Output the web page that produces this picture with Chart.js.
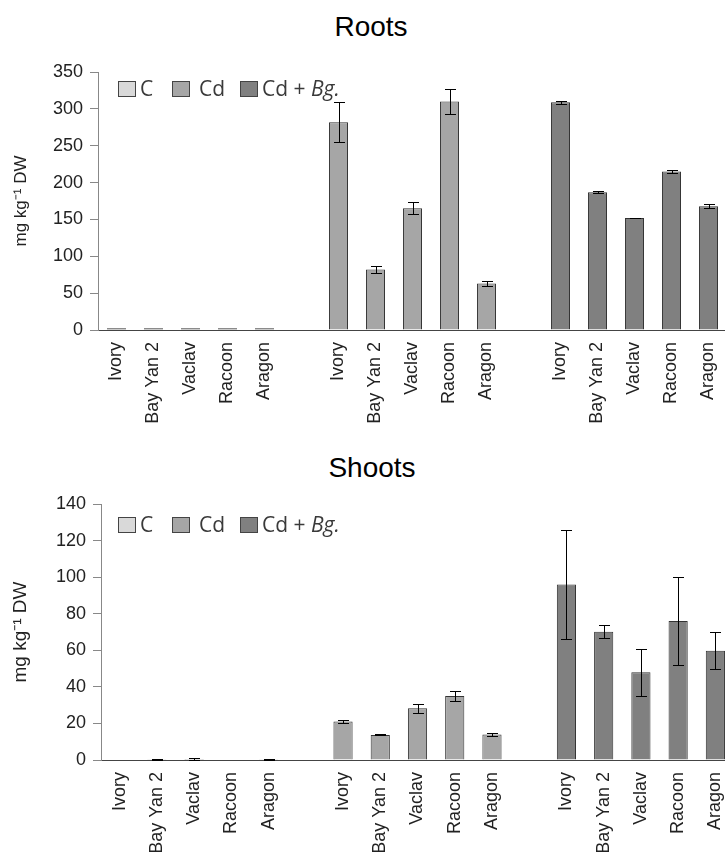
<!DOCTYPE html>
<html><head><meta charset="utf-8">
<script src="https://cdn.jsdelivr.net/npm/chart.js@4.4.1/dist/chart.umd.min.js"></script>
<style>
html,body{margin:0;padding:0;background:#fff;overflow:hidden;width:725px;height:852px;}
#wrap{position:relative;width:725px;height:852px;overflow:hidden;}
.t{position:absolute;font-family:'Liberation Sans',Arial,sans-serif;font-size:28px;line-height:28px;color:#000;white-space:nowrap;transform:translateX(-50%);}
canvas{position:absolute;left:0;}
</style></head><body>
<div id="wrap">
<div class="t" style="left:371px;top:13px">Roots</div>
<div class="t" style="left:372px;top:454px">Shoots</div>
<canvas id="roots" width="727" height="440" style="top:0"></canvas>
<canvas id="shoots" width="734" height="412" style="top:440px"></canvas>
</div>
<script>
// ---- data ----
const cultivars = ['Ivory', 'Bay Yan 2', 'Vaclav', 'Racoon', 'Aragon'];
const treatments = ['C', 'Cd', 'Cd + Bg.'];
const yTitle = 'mg kg\u207B\u00B9 DW';

const rootsYMax = 350, rootsYStep = 50;
const rootsC = [2.5, 2.5, 2.5, 2.5, 2.5];
const rootsCErr = [0, 0, 0, 0, 0];
const rootsCd = [282, 82, 165, 310, 63];
const rootsCdErr = [27, 4.5, 8, 17, 3.5];
const rootsCdBg = [309, 187, 152, 215, 168];
const rootsCdBgErr = [1.8, 1.5, 0.5, 1.6, 2.7];

const shootsYMax = 140, shootsYStep = 20;
const shootsC = [0, 0.2, 0.5, 0, 0.2];
const shootsCErr = [0, 0.2, 0.7, 0, 0.2];
const shootsCd = [21, 13.7, 28.3, 35, 14];
const shootsCdErr = [1, 0.3, 2.5, 2.7, 0.8];
const shootsCdBg = [96, 70.2, 48, 76, 59.8];
const shootsCdBgErr = [30, 3.5, 12.8, 24, 10];

const fills = ['#d9d9d9', '#a6a6a6', '#808080'];

// ---- helpers ----
const slotLabels = [...cultivars, '', ...cultivars, '', ...cultivars];
function place(vals, g) {
  const a = new Array(slotLabels.length).fill(null);
  vals.forEach((v, i) => { a[g * (cultivars.length + 1) + i] = v; });
  return a;
}

const errorBars = {
  id: 'errorBars',
  afterDatasetsDraw(chart) {
    const ctx = chart.ctx, y = chart.scales.y;
    ctx.save();
    ctx.strokeStyle = '#000';
    ctx.lineWidth = 1;
    chart.data.datasets.forEach((ds, i) => {
      const meta = chart.getDatasetMeta(i);
      meta.data.forEach((bar, j) => {
        const v = ds.data[j], e = ds.errors[j];
        if (v == null || !e) return;
        const yt = Math.round(y.getPixelForValue(v + e)) + 0.5;
        const yb = Math.round(y.getPixelForValue(Math.max(v - e, 0))) + 0.5;
        const x = Math.round(bar.x) + 0.5, c = 5.5;
        ctx.beginPath();
        ctx.moveTo(x, yt); ctx.lineTo(x, yb);
        ctx.moveTo(x - c, yt); ctx.lineTo(x + c, yt);
        ctx.moveTo(x - c, yb); ctx.lineTo(x + c, yb);
        ctx.stroke();
      });
    });
    ctx.restore();
  }
};

const boxLegend = {
  id: 'boxLegend',
  afterDraw(chart, args, o) {
    const ctx = chart.ctx;
    ctx.save();
    ctx.textBaseline = 'alphabetic';
    chart.data.datasets.forEach((ds, i) => {
      ctx.fillStyle = ds.backgroundColor;
      ctx.fillRect(o.boxX[i] + 0.5, o.boxY + 0.5, o.boxW, o.boxH);
      ctx.strokeStyle = '#444';
      ctx.lineWidth = 1;
      ctx.strokeRect(o.boxX[i] + 0.5, o.boxY + 0.5, o.boxW, o.boxH);
      ctx.fillStyle = '#3a3a3a';
      const lbl = ds.label;
      const m = lbl.match(/^(.*?)(Bg\.)$/);
      ctx.font = "21px 'Open Sans', sans-serif";
      if (m) {
        ctx.fillText(m[1], o.textX[i], o.baseline);
        const w = ctx.measureText(m[1]).width;
        ctx.font = "italic 21px 'Open Sans', sans-serif";
        ctx.fillText(m[2], o.textX[i] + w, o.baseline);
      } else {
        ctx.fillText(lbl, o.textX[i], o.baseline);
      }
    });
    ctx.restore();
  }
};

Chart.defaults.font.family = "'Liberation Sans', Arial, sans-serif";
Chart.defaults.color = '#222';

function makeChart(id, sets, cfg) {
  return new Chart(document.getElementById(id), {
    type: 'bar',
    data: {
      labels: slotLabels,
      datasets: sets.map((s, g) => ({
        label: treatments[g],
        data: place(s[0], g),
        errors: place(s[1], g),
        backgroundColor: fills[g],
        borderColor: '#333',
        borderWidth: (g === 0 && cfg.controlOutline) ? 2 : 1,
        borderSkipped: (g === 0 && cfg.controlOutline) ? false : 'start',
        grouped: false,
        barPercentage: 0.515,
        categoryPercentage: 1
      }))
    },
    options: {
      responsive: false,
      animation: false,
      events: [],
      layout: { padding: { top: cfg.top, left: 0, right: 0, bottom: 0 } },
      plugins: {
        legend: { display: false },
        tooltip: { enabled: false },
        boxLegend: cfg.legend
      },
      scales: {
        x: {
          type: 'category',
          offset: true,
          grid: { display: false, drawTicks: false },
          border: { display: true, color: '#444', width: 1 },
          ticks: { autoSkip: false, minRotation: 90, maxRotation: 90, padding: 12, color: '#222', font: { size: 18 } },
          afterFit(s) { s.height = cfg.xh; s.paddingLeft = 0; s.paddingRight = 0; }
        },
        y: {
          min: 0, max: cfg.ymax,
          ticks: { stepSize: cfg.ystep, padding: 7, color: '#222', font: { size: 18 } },
          grid: { drawOnChartArea: false, drawTicks: true, tickLength: 8, color: '#888' },
          border: { display: true, color: '#888', width: 1 },
          title: { display: true, text: yTitle, color: '#222', font: { size: cfg.tsize }, padding: { top: cfg.tpad, bottom: 0 } },
          afterFit(s) { s.width = cfg.yw; }
        }
      }
    },
    plugins: [errorBars, boxLegend]
  });
}

makeChart('roots',
  [[rootsC, rootsCErr], [rootsCd, rootsCdErr], [rootsCdBg, rootsCdBgErr]],
  { top: 72, xh: 110, yw: 98, ymax: rootsYMax, ystep: rootsYStep, tsize: 17, tpad: 11, controlOutline: true,
    legend: { boxX: [118, 172, 240], textX: [140, 199, 262], boxY: 81, boxW: 17, boxH: 15, baseline: 96 } });

makeChart('shoots',
  [[shootsC, shootsCErr], [shootsCd, shootsCdErr], [shootsCdBg, shootsCdBgErr]],
  { top: 64, xh: 92, yw: 101, ymax: shootsYMax, ystep: shootsYStep, tsize: 19, tpad: 9, controlOutline: false,
    legend: { boxX: [118, 172, 240], textX: [140, 199, 262], boxY: 77, boxW: 17, boxH: 15, baseline: 92 } });
</script>
</body></html>
